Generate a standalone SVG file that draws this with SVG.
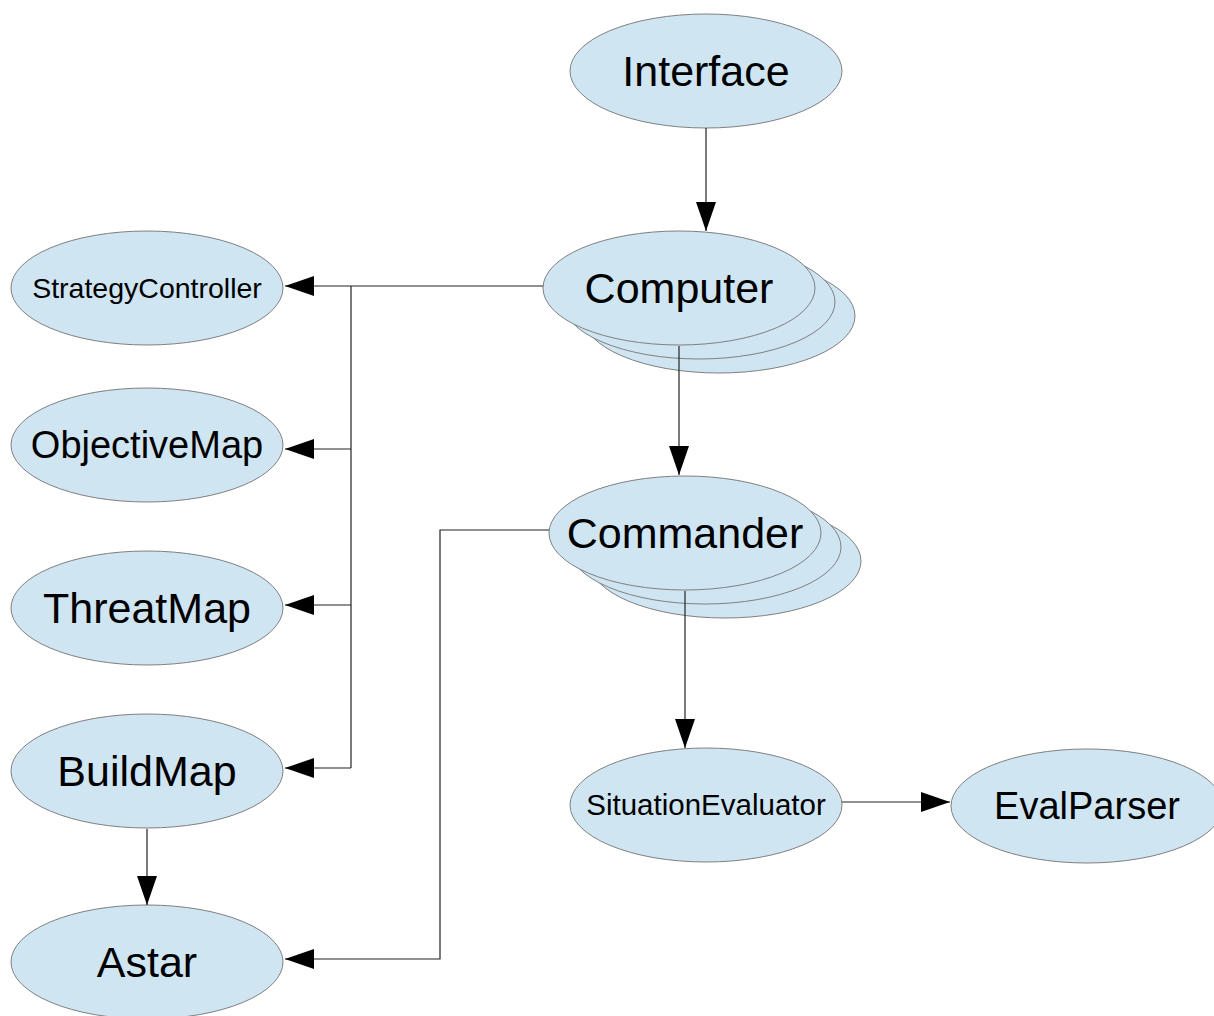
<svg xmlns="http://www.w3.org/2000/svg" width="1214" height="1016" viewBox="0 0 1214 1016">
<style>
.n{fill:#cfe5f2;stroke:#808080;stroke-width:1}
.t{font-family:"Liberation Sans",Arial,sans-serif;fill:#000;text-anchor:middle}
.c{fill:none;stroke:#222;stroke-width:1.2}
</style>
<defs>
<marker id="ah" markerWidth="29" markerHeight="20" refX="29" refY="10" orient="auto" markerUnits="userSpaceOnUse">
<path d="M0,0 L29,10 L0,20 Z" fill="#000"/>
</marker>
</defs>
<rect width="1214" height="1016" fill="#fff"/>
<g id="Interface">
<ellipse class="n" cx="706" cy="71" rx="136" ry="57"/>
<text class="t" x="706" y="86" font-size="43">Interface</text>
</g>
<g id="Computer">
<ellipse class="n" cx="719" cy="316" rx="136" ry="57"/>
<ellipse class="n" cx="699" cy="302" rx="136" ry="57"/>
<ellipse class="n" cx="679" cy="288" rx="136" ry="57"/>
<text class="t" x="679" y="303" font-size="43">Computer</text>
</g>
<g id="Commander">
<ellipse class="n" cx="725" cy="561" rx="136" ry="57"/>
<ellipse class="n" cx="705" cy="547" rx="136" ry="57"/>
<ellipse class="n" cx="685" cy="533" rx="136" ry="57"/>
<text class="t" x="685" y="548" font-size="43">Commander</text>
</g>
<g id="StrategyController">
<ellipse class="n" cx="147" cy="288" rx="136" ry="57"/>
<text class="t" x="147" y="298" font-size="28.5">StrategyController</text>
</g>
<g id="ObjectiveMap">
<ellipse class="n" cx="147" cy="445" rx="136" ry="57"/>
<text class="t" x="147" y="458" font-size="38">ObjectiveMap</text>
</g>
<g id="ThreatMap">
<ellipse class="n" cx="147" cy="608" rx="136" ry="57"/>
<text class="t" x="147" y="623" font-size="43">ThreatMap</text>
</g>
<g id="BuildMap">
<ellipse class="n" cx="147" cy="771" rx="136" ry="57"/>
<text class="t" x="147" y="786" font-size="43">BuildMap</text>
</g>
<g id="Astar">
<ellipse class="n" cx="147" cy="962" rx="136" ry="57"/>
<text class="t" x="147" y="977" font-size="43">Astar</text>
</g>
<g id="SituationEvaluator">
<ellipse class="n" cx="706" cy="805" rx="136" ry="57"/>
<text class="t" x="706" y="815" font-size="29.5">SituationEvaluator</text>
</g>
<g id="EvalParser">
<ellipse class="n" cx="1087" cy="806" rx="136" ry="57"/>
<text class="t" x="1087" y="819" font-size="38">EvalParser</text>
</g>
<g id="connectors">
<path class="c" d="M706,128 L706,231" marker-end="url(#ah)"/>
<path class="c" d="M543,286 L285,286" marker-end="url(#ah)"/>
<path class="c" d="M351,286 L351,768"/>
<path class="c" d="M351,449 L285,449" marker-end="url(#ah)"/>
<path class="c" d="M351,605 L285,605" marker-end="url(#ah)"/>
<path class="c" d="M351,768 L285,768" marker-end="url(#ah)"/>
<path class="c" d="M679,346 L679,475" marker-end="url(#ah)"/>
<path class="c" d="M685,591 L685,748" marker-end="url(#ah)"/>
<path class="c" d="M842,802 L950,802" marker-end="url(#ah)"/>
<path class="c" d="M549,530 L440,530 L440,959 L285,959" marker-end="url(#ah)"/>
<path class="c" d="M147,829 L147,905" marker-end="url(#ah)"/>
</g>
</svg>
